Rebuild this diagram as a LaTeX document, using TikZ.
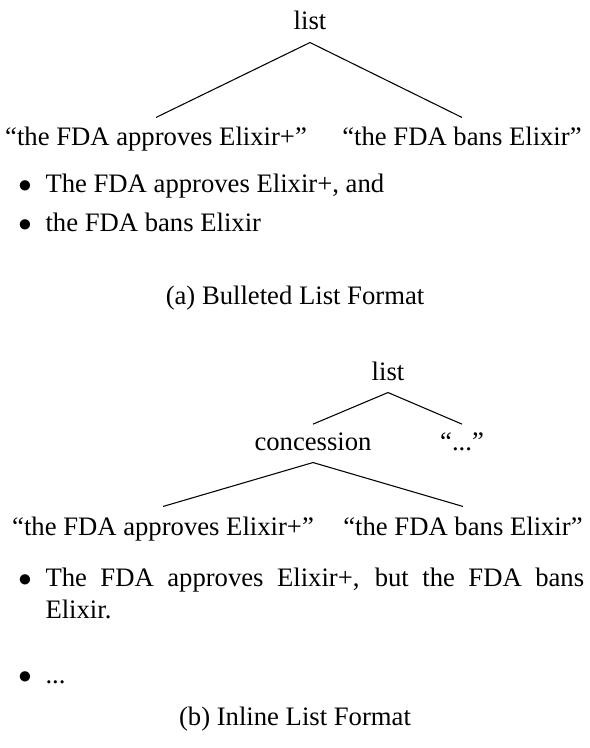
\documentclass[tikz,border=0pt]{standalone}
\usepackage{fontspec}
\setmainfont{Liberation Serif}
\usepackage{tikz}

\begin{document}
\begin{tikzpicture}[x=0.375pt, y=-0.375pt, font=\fontsize{10}{12}\selectfont,
  tree/.style={inner sep=3pt, text height=6.5pt, text depth=1.5pt, anchor=base},
  leaf/.style={tree, text height=7.5pt},
  bul/.style={inner sep=0pt, anchor=base},
  item/.style={inner sep=0pt, anchor=base west, text width=202pt, align=justify}]
\useasboundingbox (0,0) rectangle (589,748);

% (a) Tree
\node[tree] (lista) at (310,30) {list};
\node[leaf] (appa) at (156,146) {“the FDA approves Elixir+”};
\node[leaf] (bana) at (462,146) {“the FDA bans Elixir”};
\draw (lista.south) -- (appa.north);
\draw (lista.south) -- (bana.north);

% (a) Bullets
\node[bul] (dota1) at (25,193) {$\bullet$};
\node[item] (itema1) at (45,193) {The FDA approves Elixir+, and};
\node[bul] (dota2) at (25,232) {$\bullet$};
\node[item] (itema2) at (45,232) {the FDA bans Elixir};
\node[bul] (capa) at (295,304) {(a) Bulleted List Format};

% (b) Tree
\node[tree] (listb) at (388,380) {list};
\node[tree] (conc) at (313,450) {concession};
\node[tree] (dots) at (462,450) {“...”};
\node[leaf] (appb) at (163,535) {“the FDA approves Elixir+”};
\node[leaf] (banb) at (463,535) {“the FDA bans Elixir”};
\draw (listb.south) -- (conc.north);
\draw (listb.south) -- (dots.north);
\draw (conc.south) -- (appb.north);
\draw (conc.south) -- (banb.north);

% (b) Bullets
\node[bul] (dotb1) at (25,586) {$\bullet$};
\node[item] (itemb1) at (45,586) {The FDA approves Elixir+, but the FDA bans Elixir.};
\node[bul] (dotb2) at (25,683) {$\bullet$};
\node[item] (itemb2) at (45,683) {...};
\node[bul] (capb) at (295,725) {(b) Inline List Format};
\end{tikzpicture}
\end{document}
